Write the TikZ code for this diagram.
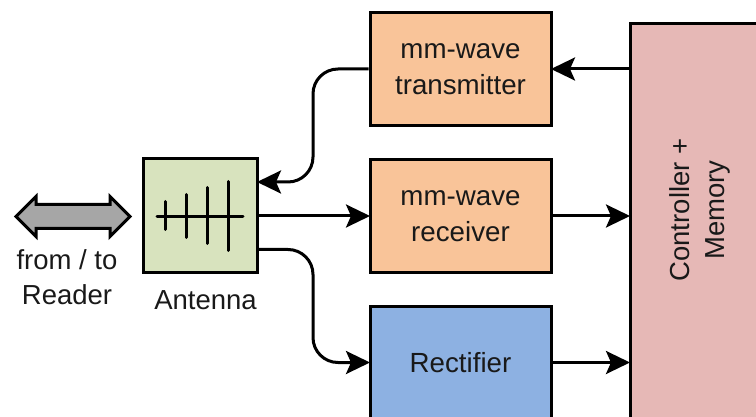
\documentclass[tikz,border=0pt]{standalone}
\usepackage{fontspec}
\setmainfont{Liberation Sans}
\usetikzlibrary{arrows.meta}
\definecolor{orangebox}{HTML}{F9C499}
\definecolor{bluebox}{HTML}{8DB1E2}
\definecolor{greenbox}{HTML}{D8E3BE}
\definecolor{redbox}{HTML}{E6B8B6}
\definecolor{graybox}{HTML}{A6A6A6}
\tikzset{
  blockbox/.style={draw=black,line width=3pt,inner sep=0pt,align=center,text=black!90,
    minimum width=181pt,minimum height=113pt,font=\fontsize{27.7}{34.5}\selectfont},
  plainlabel/.style={inner sep=0pt,align=center,text=black!90,font=\fontsize{27.5}{35}\selectfont},
  conn/.style={line width=3pt,rounded corners=25pt,shorten >=-1.5pt,-{Stealth[length=24pt,width=23pt,inset=5pt]}},
  antline/.style={line width=3pt,line cap=round}
}
\begin{document}
\begin{tikzpicture}[x=1pt,y=-1pt]
\useasboundingbox (0,0) rectangle (756,417);
\clip (0,0) rectangle (756,417);
% boxes
\node[blockbox,fill=orangebox] (tx) at (460.5,69) {mm-wave\\[1.5pt]transmitter};
\node[blockbox,fill=orangebox] (rx) at (460.5,216) {mm-wave\\[1.5pt]receiver};
\node[blockbox,fill=bluebox,minimum height=112pt] (rect) at (460.5,362.5) {Rectifier};
\path[draw=black,line width=3pt,fill=redbox] (630,23.5) rectangle (800,460);
\coordinate (ctrlw) at (628.5,216);
\node[plainlabel,rotate=90] (ctrl) at (700,210) {Controller +\\Memory};
\node[blockbox,fill=greenbox,minimum width=114pt,minimum height=114pt] (ant) at (200,216) {};
% antenna glyph
\coordinate (a0) at (157,216.5); \coordinate (a1) at (243,216.5);
\draw[antline] (a0) -- (a1);
\draw[antline] (165,201.5) -- (165,229.5);
\draw[antline] (186,194.5) -- (186,237.5);
\draw[antline] (207,187.5) -- (207,243.5);
\draw[antline] (228.5,181.5) -- (228.5,250.5);
% double arrow
\path[draw=black,line width=3pt,fill=graybox,line join=miter]
  (16,216.5) -- (36,196.5) -- (36,204.5) -- (110,204.5) -- (110,196.5) -- (130,216.5)
  -- (110,236.5) -- (110,228.5) -- (36,228.5) -- (36,236.5) -- cycle;
% labels
\node[plainlabel] (reader) at (67,277) {from / to\\Reader};
\node[plainlabel] (antlabel) at (205.5,300) {Antenna};
% connectors
\draw[conn] (tx.west) -- (313,69) -- (313,182) -- (ant.east |- 0,182);
\draw[conn] (ant.east) -- (rx.west);
\draw[conn] (ant.east |- 0,249.5) -- (313,249.5) -- (313,362.5) -- (rect.west);
\draw[conn] (ctrlw |- tx.east) -- (tx.east);
\draw[conn] (rx.east) -- (ctrlw |- rx.east);
\draw[conn] (rect.east) -- (ctrlw |- rect.east);
\end{tikzpicture}
\end{document}
